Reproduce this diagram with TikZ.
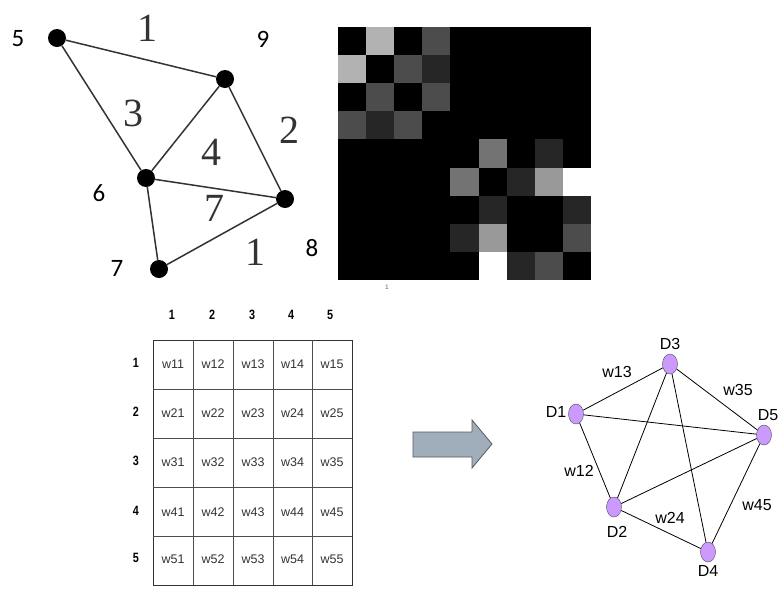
\documentclass[tikz,border=0pt]{standalone}
\usepackage{fontspec}
\setmainfont{Liberation Sans}
\newfontfamily\calib{Carlito}
\newfontfamily\tms{Liberation Serif}
\usetikzlibrary{shapes.geometric}
\definecolor{lilac}{RGB}{204,153,255}
\definecolor{arrowfill}{RGB}{160,174,187}
\definecolor{txtgray}{RGB}{51,51,51}
\tikzset{
  dot/.style={circle,fill=black,inner sep=0pt,minimum size=18pt},
  vlabel/.style={font=\calib\fontsize{25}{25}\selectfont,text=black},
  elabel/.style={font=\tms\fontsize{40}{40}\selectfont,text=txtgray},
  gedge/.style={draw=txtgray,line width=1.5pt},
  cell/.style={font=\fontsize{12.5}{13}\selectfont,text=txtgray},
  hdr/.style={font=\bfseries\fontsize{13.5}{13.5}\selectfont,text=black,xscale=0.8},
  dnode/.style={ellipse,draw=black!70,fill=lilac,inner sep=0pt,minimum width=15pt,minimum height=20pt},
  dlabel/.style={font=\fontsize{16}{16}\selectfont,text=black},
  dedge/.style={draw=black,line width=0.8pt}
}
\begin{document}
\begin{tikzpicture}[x=1pt,y=-1pt]
\useasboundingbox (0,0) rectangle (784,592);
% ---------- top-left graph ----------
\node[dot] (n5) at (57,38) {};
\node[dot] (n9) at (225,79) {};
\node[dot] (n6) at (146,178) {};
\node[dot] (n8) at (285,199) {};
\node[dot] (n7) at (159,269) {};
\node[vlabel] (l5) at (18,39) {5};
\node[vlabel] (l9) at (263,39) {9};
\node[vlabel] (l6) at (99,193) {6};
\node[vlabel] (l8) at (312,248) {8};
\node[vlabel] (l7) at (117,268) {7};
\draw[gedge] (n5) -- (n9);
\draw[gedge] (n5) -- (n6);
\draw[gedge] (n9) -- (n6);
\draw[gedge] (n9) -- (n8);
\draw[gedge] (n6) -- (n8);
\draw[gedge] (n6) -- (n7);
\draw[gedge] (n7) -- (n8);
\node[elabel] (e1) at (147,28) {1};
\node[elabel] (e3) at (133,113) {3};
\node[elabel] (e4) at (211,152) {4};
\node[elabel] (e2) at (289,130) {2};
\node[elabel] (e7) at (214,208) {7};
\node[elabel] (e1b) at (255,252) {1};
% ---------- heatmap ----------
\def\hx{338}\def\hy{27}\def\hs{28.1}
\foreach \rowvals [count=\r from 0] in {
 {0,70,0,30,0,0,0,0,0},
 {70,0,30,15,0,0,0,0,0},
 {0,30,0,30,0,0,0,0,0},
 {30,15,30,0,0,0,0,0,0},
 {0,0,0,0,0,45,0,15,0},
 {0,0,0,0,45,0,15,60,100},
 {0,0,0,0,0,15,0,0,15},
 {0,0,0,0,15,60,0,0,30},
 {0,0,0,0,0,100,15,30,0}} {
  \foreach \v [count=\c from 0] in \rowvals {
    \fill[white!\v!black] (\hx+\c*\hs,\hy+\r*\hs) rectangle (\hx+\c*\hs+\hs+0.3,\hy+\r*\hs+\hs+0.3);
  }
}
\node[font=\fontsize{6.5}{6.5}\selectfont,text=black!60] (tick) at (387,287) {1};
% ---------- table ----------
\draw[black!80,line width=0.8pt] (153,340) rectangle (352,585);
\foreach \x in {193,233,273,312} \draw[black!70,line width=0.7pt] (\x,340) -- (\x,585);
\foreach \y in {389,438,487,536} \draw[black!70,line width=0.7pt] (153,\y) -- (352,\y);
\foreach \i/\cx in {1/172,2/212,3/252,4/291,5/330} {
  \node[hdr] (ch\i) at (\cx,315) {\i};
}
\foreach \j/\cy in {1/363,2/412,3/461,4/511,5/558} {
  \node[hdr] (rh\j) at (136,\cy) {\j};
  \foreach \i/\cx in {1/173,2/213,3/253,4/292.5,5/332} {
    \node[cell] (w\j\i) at (\cx,\cy+1) {w\j\i};
  }
}
% ---------- arrow ----------
\draw[fill=arrowfill,draw=black!65,line width=0.8pt] (413,432) -- (472,432) -- (472,420) -- (492,444) -- (472,468) -- (472,457) -- (413,457) -- cycle;
% ---------- right graph ----------
\node[dnode] (D3) at (670,364) {};
\node[dnode] (D1) at (576,414) {};
\node[dnode] (D5) at (764,435) {};
\node[dnode] (D2) at (614,507) {};
\node[dnode] (D4) at (708,552) {};
\draw[dedge] (D1) -- (D3);
\draw[dedge] (D1) -- (D5);
\draw[dedge] (D1) -- (D2);
\draw[dedge] (D3) -- (D2);
\draw[dedge] (D3) -- (D4);
\draw[dedge] (D3) -- (D5);
\draw[dedge] (D2) -- (D5);
\draw[dedge] (D2) -- (D4);
\draw[dedge] (D4) -- (D5);
\node[dlabel] (tD3) at (670,344) {D3};
\node[dlabel] (tD1) at (556,412) {D1};
\node[dlabel] (tD5) at (768,415) {D5};
\node[dlabel] (tD2) at (617,532) {D2};
\node[dlabel] (tD4) at (708,571) {D4};
\node[dlabel] (w13l) at (617,372) {w13};
\node[dlabel] (w35l) at (738,390) {w35};
\node[dlabel] (w12l) at (579,471) {w12};
\node[dlabel] (w24l) at (670,518) {w24};
\node[dlabel] (w45l) at (757,505) {w45};
\end{tikzpicture}
\end{document}
